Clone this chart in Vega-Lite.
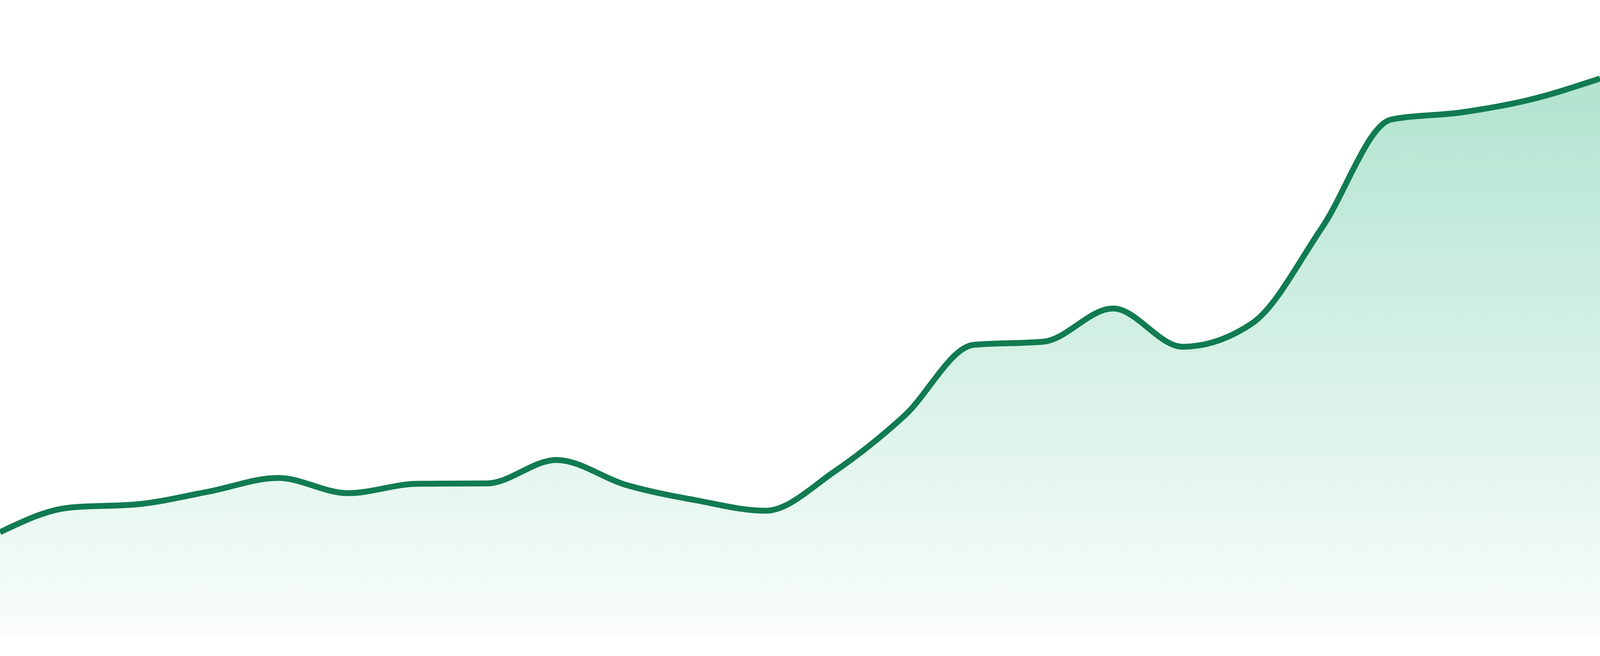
{
  "$schema": "https://vega.github.io/schema/vega-lite/v6.json",
  "width": 4096,
  "height": 1632,
  "autosize": {"type": "none"},
  "padding": {"left": 0, "right": 0, "top": 0, "bottom": 48},
  "background": "white",
  "config": {"view": {"stroke": null}},
  "data": {
    "values": [
      {"i": 0, "v": 26.9}, {"i": 1, "v": 33.2}, {"i": 2, "v": 34.1}, {"i": 3, "v": 37.3},
      {"i": 4, "v": 40.8}, {"i": 5, "v": 36.9}, {"i": 6, "v": 39.3}, {"i": 7, "v": 39.4},
      {"i": 8, "v": 45.4}, {"i": 9, "v": 39.0}, {"i": 10, "v": 35.1}, {"i": 11, "v": 32.4},
      {"i": 12, "v": 42.5}, {"i": 13, "v": 56.7}, {"i": 14, "v": 74.9}, {"i": 15, "v": 75.7},
      {"i": 16, "v": 84.2}, {"i": 17, "v": 74.4}, {"i": 18, "v": 80.4}, {"i": 19, "v": 104.8},
      {"i": 20, "v": 132.6}, {"i": 21, "v": 134.4}, {"i": 22, "v": 137.7}, {"i": 23, "v": 143.1}
    ]
  },
  "encoding": {
    "x": {"field": "i", "type": "quantitative", "scale": {"domain": [0, 23], "nice": false, "zero": false}, "axis": null},
    "y": {"field": "v", "type": "quantitative", "scale": {"domain": [0, 163.2], "nice": false}, "axis": null}
  },
  "layer": [
    {
      "mark": {
        "type": "area",
        "interpolate": "monotone",
        "color": {
          "gradient": "linear",
          "x1": 0, "y1": 0, "x2": 0, "y2": 1,
          "stops": [
            {"offset": 0, "color": "#b1e4cf"},
            {"offset": 1, "color": "#fafdfc"}
          ]
        }
      }
    },
    {
      "mark": {"type": "line", "interpolate": "monotone", "color": "#117b51", "strokeWidth": 15}
    }
  ]
}
